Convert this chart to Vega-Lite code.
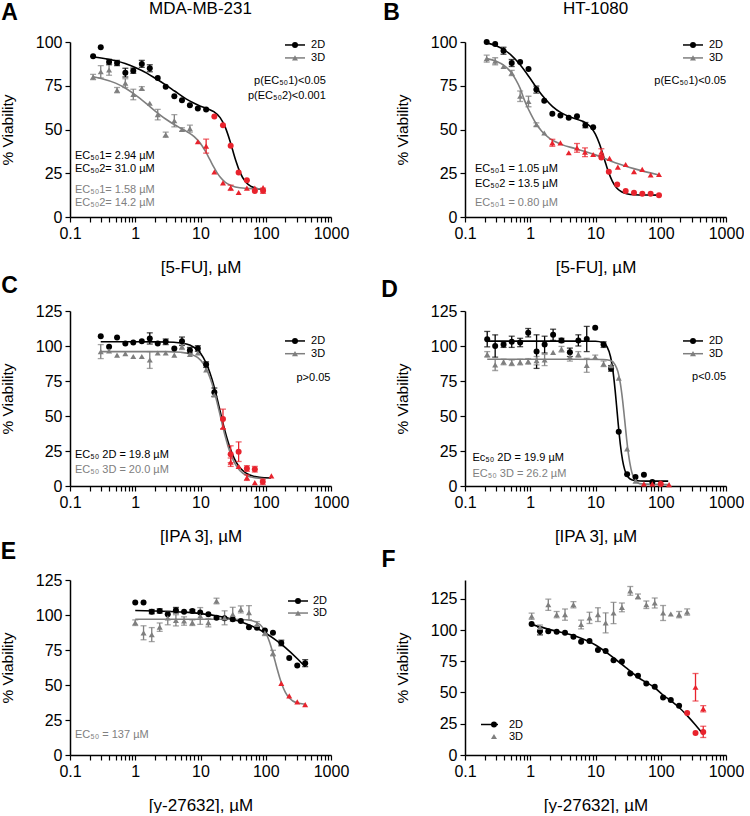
{
"$schema": "https://vega.github.io/schema/vega-lite/v6.json",
"background": "white",
"padding": {"left": 0, "top": 0, "right": 0, "bottom": 0},
"config": {
 "view": {"stroke": null},
 "font": "Liberation Sans",
 "axis": {"grid": false, "domainColor": "#000", "domainWidth": 1.5, "tickColor": "#000", "tickWidth": 1.2, "tickSize": 5, "labelFont": "Liberation Sans", "labelFontSize": 16, "labelColor": "#000", "labelPadding": 3, "titleFont": "Liberation Sans", "titleFontSize": 17, "titleFontWeight": "normal", "titleColor": "#000", "labelFlush": false},
 "axisX": {"titlePadding": 18, "labelOverlap": false},
 "axisY": {"titlePadding": 20, "titleFontSize": 15.5}
},
"datasets": {
 "pts": [
  {"p":"A","s":"2D","x":0.226,"y":91.8},{"p":"A","s":"2D","x":0.296,"y":97},{"p":"A","s":"2D","x":0.397,"y":88.6,"e":1.5},{"p":"A","s":"2D","x":0.526,"y":88,"e":1.5},{"p":"A","s":"2D","x":0.705,"y":82.5,"e":2.5},{"p":"A","s":"2D","x":0.933,"y":83.6,"e":1.5},{"p":"A","s":"2D","x":1.26,"y":87.5,"e":2},{"p":"A","s":"2D","x":1.67,"y":85,"e":2},{"p":"A","s":"2D","x":2.21,"y":79.5},{"p":"A","s":"2D","x":2.93,"y":74.5},{"p":"A","s":"2D","x":3.97,"y":69},{"p":"A","s":"2D","x":5.2,"y":66.7},{"p":"A","s":"2D","x":6.88,"y":63.9},{"p":"A","s":"2D","x":9.1,"y":62},{"p":"A","s":"2D","x":12.2,"y":61.4},{"p":"A","s":"2D","x":16.3,"y":57.5,"hl":true},{"p":"A","s":"2D","x":22.1,"y":52.5,"hl":true},{"p":"A","s":"2D","x":29,"y":40.7,"hl":true},{"p":"A","s":"2D","x":38.4,"y":25.5,"hl":true},{"p":"A","s":"2D","x":51.4,"y":21,"hl":true},{"p":"A","s":"2D","x":68,"y":14.8,"hl":true},{"p":"A","s":"2D","x":91,"y":15,"e":1.5,"hl":true},
  {"p":"A","s":"3D","x":0.226,"y":80,"e":1.5},{"p":"A","s":"3D","x":0.296,"y":83,"e":3.5},{"p":"A","s":"3D","x":0.397,"y":84,"e":3},{"p":"A","s":"3D","x":0.526,"y":72.5,"e":1.5},{"p":"A","s":"3D","x":0.705,"y":76.5,"e":2.5},{"p":"A","s":"3D","x":0.933,"y":70,"e":3},{"p":"A","s":"3D","x":1.26,"y":73.5,"e":1},{"p":"A","s":"3D","x":1.67,"y":65},{"p":"A","s":"3D","x":2.21,"y":58.5,"e":3},{"p":"A","s":"3D","x":2.93,"y":47,"e":1.5},{"p":"A","s":"3D","x":3.97,"y":55,"e":3.5},{"p":"A","s":"3D","x":5.2,"y":50,"e":1},{"p":"A","s":"3D","x":6.88,"y":50.5,"e":2},{"p":"A","s":"3D","x":9.1,"y":43,"hl":true},{"p":"A","s":"3D","x":12.2,"y":40.5,"e":4,"hl":true},{"p":"A","s":"3D","x":16.3,"y":25.7,"hl":true},{"p":"A","s":"3D","x":22.1,"y":19.5,"hl":true},{"p":"A","s":"3D","x":29,"y":16.7,"e":1.5,"hl":true},{"p":"A","s":"3D","x":38.4,"y":14,"hl":true},{"p":"A","s":"3D","x":51.4,"y":16.5,"hl":true},{"p":"A","s":"3D","x":68,"y":16.5,"hl":true},{"p":"A","s":"3D","x":91,"y":16.8,"hl":true},
  {"p":"B","s":"2D","x":0.215,"y":100},{"p":"B","s":"2D","x":0.29,"y":98.9},{"p":"B","s":"2D","x":0.389,"y":95,"e":2},{"p":"B","s":"2D","x":0.52,"y":88,"e":2},{"p":"B","s":"2D","x":0.7,"y":88.6},{"p":"B","s":"2D","x":0.94,"y":84.6},{"p":"B","s":"2D","x":1.24,"y":72.8,"e":2},{"p":"B","s":"2D","x":1.64,"y":66.5},{"p":"B","s":"2D","x":2.18,"y":59},{"p":"B","s":"2D","x":2.9,"y":58},{"p":"B","s":"2D","x":3.89,"y":56.7},{"p":"B","s":"2D","x":5.2,"y":57.6},{"p":"B","s":"2D","x":7,"y":52.5,"e":1.5},{"p":"B","s":"2D","x":9.2,"y":51.3},{"p":"B","s":"2D","x":12.3,"y":34,"hl":true},{"p":"B","s":"2D","x":16,"y":25.9,"hl":true},{"p":"B","s":"2D","x":21.5,"y":18.6,"hl":true},{"p":"B","s":"2D","x":29,"y":14.8,"hl":true},{"p":"B","s":"2D","x":38.9,"y":13.9,"hl":true},{"p":"B","s":"2D","x":52.2,"y":13.3,"hl":true},{"p":"B","s":"2D","x":70,"y":13.3,"hl":true},{"p":"B","s":"2D","x":94,"y":12.5,"hl":true},
  {"p":"B","s":"3D","x":0.215,"y":90.5,"e":2},{"p":"B","s":"3D","x":0.29,"y":89,"e":2},{"p":"B","s":"3D","x":0.389,"y":86},{"p":"B","s":"3D","x":0.52,"y":82.3,"e":1.5},{"p":"B","s":"3D","x":0.7,"y":69,"e":3},{"p":"B","s":"3D","x":0.94,"y":66,"e":3},{"p":"B","s":"3D","x":1.24,"y":52.8,"e":1},{"p":"B","s":"3D","x":1.64,"y":48},{"p":"B","s":"3D","x":2.18,"y":42.4,"e":2,"hl":true},{"p":"B","s":"3D","x":2.9,"y":42.4,"hl":true},{"p":"B","s":"3D","x":3.89,"y":36.7,"hl":true},{"p":"B","s":"3D","x":5.2,"y":39.5,"e":2.5,"hl":true},{"p":"B","s":"3D","x":6.9,"y":37,"e":2.5,"hl":true},{"p":"B","s":"3D","x":9.2,"y":35.7,"hl":true},{"p":"B","s":"3D","x":12.3,"y":37,"e":2,"hl":true},{"p":"B","s":"3D","x":16.4,"y":33.5,"hl":true},{"p":"B","s":"3D","x":22,"y":28.5,"hl":true},{"p":"B","s":"3D","x":29,"y":30,"hl":true},{"p":"B","s":"3D","x":38.9,"y":25.9,"hl":true},{"p":"B","s":"3D","x":52,"y":27.2,"hl":true},{"p":"B","s":"3D","x":70,"y":24,"hl":true},{"p":"B","s":"3D","x":94,"y":24.3,"hl":true},
  {"p":"C","s":"2D","x":0.296,"y":107},{"p":"C","s":"2D","x":0.397,"y":99.4},{"p":"C","s":"2D","x":0.526,"y":106},{"p":"C","s":"2D","x":0.705,"y":101.8},{"p":"C","s":"2D","x":0.933,"y":102.5},{"p":"C","s":"2D","x":1.26,"y":103.4},{"p":"C","s":"2D","x":1.67,"y":105.4,"e":4},{"p":"C","s":"2D","x":2.21,"y":101.8},{"p":"C","s":"2D","x":2.93,"y":103,"e":2},{"p":"C","s":"2D","x":3.97,"y":98.2},{"p":"C","s":"2D","x":5.2,"y":103.4,"e":3},{"p":"C","s":"2D","x":6.88,"y":97,"e":2},{"p":"C","s":"2D","x":9.1,"y":98.2,"e":2},{"p":"C","s":"2D","x":12.2,"y":86.7,"e":2},{"p":"C","s":"2D","x":16.3,"y":67,"e":3},{"p":"C","s":"2D","x":22.1,"y":47.9,"e":7,"hl":true},{"p":"C","s":"2D","x":29,"y":22.7,"e":6,"hl":true},{"p":"C","s":"2D","x":38.4,"y":24.5,"e":7,"hl":true},{"p":"C","s":"2D","x":51.4,"y":12.5,"e":2,"hl":true},{"p":"C","s":"2D","x":68,"y":12,"e":2,"hl":true},{"p":"C","s":"2D","x":90,"y":3,"e":2,"hl":true},
  {"p":"C","s":"3D","x":0.296,"y":96,"e":5},{"p":"C","s":"3D","x":0.397,"y":96.5},{"p":"C","s":"3D","x":0.526,"y":93.5},{"p":"C","s":"3D","x":0.705,"y":94.5},{"p":"C","s":"3D","x":0.933,"y":92.5},{"p":"C","s":"3D","x":1.26,"y":92.5},{"p":"C","s":"3D","x":1.67,"y":90,"e":6},{"p":"C","s":"3D","x":2.21,"y":95},{"p":"C","s":"3D","x":2.93,"y":95},{"p":"C","s":"3D","x":3.97,"y":93.5},{"p":"C","s":"3D","x":5.2,"y":99.5,"e":2},{"p":"C","s":"3D","x":6.88,"y":94},{"p":"C","s":"3D","x":9.1,"y":95},{"p":"C","s":"3D","x":12.2,"y":83},{"p":"C","s":"3D","x":16.3,"y":65},{"p":"C","s":"3D","x":22.1,"y":42,"hl":true},{"p":"C","s":"3D","x":29,"y":17,"e":3,"hl":true},{"p":"C","s":"3D","x":38.4,"y":14,"hl":true},{"p":"C","s":"3D","x":51.4,"y":6,"e":2,"hl":true},{"p":"C","s":"3D","x":68,"y":2.4,"hl":true},{"p":"C","s":"3D","x":122,"y":7.2,"hl":true},
  {"p":"D","s":"2D","x":0.219,"y":104.9,"e":5.5},{"p":"D","s":"2D","x":0.29,"y":100,"e":8},{"p":"D","s":"2D","x":0.39,"y":101,"e":2},{"p":"D","s":"2D","x":0.52,"y":103,"e":4},{"p":"D","s":"2D","x":0.7,"y":102.5,"e":3},{"p":"D","s":"2D","x":0.93,"y":109.5,"e":3},{"p":"D","s":"2D","x":1.25,"y":96,"e":12},{"p":"D","s":"2D","x":1.66,"y":101,"e":6},{"p":"D","s":"2D","x":2.24,"y":108,"e":4},{"p":"D","s":"2D","x":3.01,"y":104,"e":1.5},{"p":"D","s":"2D","x":4.05,"y":95.5,"e":3},{"p":"D","s":"2D","x":5.46,"y":104,"e":4},{"p":"D","s":"2D","x":7.34,"y":105,"e":9},{"p":"D","s":"2D","x":9.9,"y":113},{"p":"D","s":"2D","x":13.3,"y":101,"e":2},{"p":"D","s":"2D","x":17.3,"y":84,"e":2},{"p":"D","s":"2D","x":22.7,"y":38.8},{"p":"D","s":"2D","x":30.5,"y":8.4},{"p":"D","s":"2D","x":41,"y":6.5},{"p":"D","s":"2D","x":55.2,"y":8},{"p":"D","s":"2D","x":74.3,"y":2.9},{"p":"D","s":"2D","x":100,"y":1.5,"hl":true},
  {"p":"D","s":"3D","x":0.219,"y":94,"e":2},{"p":"D","s":"3D","x":0.29,"y":86.5,"e":4},{"p":"D","s":"3D","x":0.39,"y":88.6,"e":2},{"p":"D","s":"3D","x":0.52,"y":88,"e":2},{"p":"D","s":"3D","x":0.7,"y":88.5,"e":2},{"p":"D","s":"3D","x":0.93,"y":89,"e":2},{"p":"D","s":"3D","x":1.25,"y":89.5,"e":3},{"p":"D","s":"3D","x":1.66,"y":90,"e":4},{"p":"D","s":"3D","x":2.24,"y":95.5},{"p":"D","s":"3D","x":3.01,"y":97.7,"e":2},{"p":"D","s":"3D","x":4.05,"y":92.2,"e":3},{"p":"D","s":"3D","x":5.46,"y":94,"e":2},{"p":"D","s":"3D","x":7.34,"y":86.2,"e":5},{"p":"D","s":"3D","x":9.9,"y":92,"e":1.5},{"p":"D","s":"3D","x":13.3,"y":87.3,"e":2},{"p":"D","s":"3D","x":17.3,"y":86},{"p":"D","s":"3D","x":22.7,"y":77},{"p":"D","s":"3D","x":30.5,"y":26.5},{"p":"D","s":"3D","x":41,"y":3.5},{"p":"D","s":"3D","x":55.2,"y":1.5,"hl":true},{"p":"D","s":"3D","x":74.3,"y":1.5,"hl":true},{"p":"D","s":"3D","x":100,"y":2.5,"hl":true},{"p":"D","s":"3D","x":134,"y":1,"hl":true},
  {"p":"E","s":"2D","x":1,"y":108.9},{"p":"E","s":"2D","x":1.34,"y":108.9},{"p":"E","s":"2D","x":1.79,"y":102.4,"e":1.5},{"p":"E","s":"2D","x":2.37,"y":102.9,"e":1.5},{"p":"E","s":"2D","x":3.15,"y":100.5},{"p":"E","s":"2D","x":4.2,"y":103.4,"e":2},{"p":"E","s":"2D","x":5.6,"y":102.4},{"p":"E","s":"2D","x":7.5,"y":102.9,"e":1},{"p":"E","s":"2D","x":9.9,"y":101.7},{"p":"E","s":"2D","x":13.2,"y":100.5},{"p":"E","s":"2D","x":17.6,"y":98},{"p":"E","s":"2D","x":23.4,"y":97.6},{"p":"E","s":"2D","x":31.2,"y":97},{"p":"E","s":"2D","x":41.5,"y":95.7},{"p":"E","s":"2D","x":55.3,"y":91.3},{"p":"E","s":"2D","x":73.3,"y":90.9},{"p":"E","s":"2D","x":97,"y":88.9},{"p":"E","s":"2D","x":129,"y":87.3},{"p":"E","s":"2D","x":173,"y":80,"e":2},{"p":"E","s":"2D","x":229,"y":69.2},{"p":"E","s":"2D","x":304,"y":63.9},{"p":"E","s":"2D","x":402,"y":65.6,"e":2.5},
  {"p":"E","s":"3D","x":1,"y":94.5,"e":2},{"p":"E","s":"3D","x":1.34,"y":87.3,"e":5},{"p":"E","s":"3D","x":1.79,"y":86,"e":5},{"p":"E","s":"3D","x":2.37,"y":91.3,"e":3},{"p":"E","s":"3D","x":3.15,"y":98,"e":5},{"p":"E","s":"3D","x":4.2,"y":96.2,"e":4},{"p":"E","s":"3D","x":5.6,"y":95.7,"e":3},{"p":"E","s":"3D","x":7.5,"y":94.5,"e":2},{"p":"E","s":"3D","x":9.9,"y":99.3,"e":6},{"p":"E","s":"3D","x":13.2,"y":94.5,"e":3},{"p":"E","s":"3D","x":17.6,"y":110,"e":2},{"p":"E","s":"3D","x":23.4,"y":98,"e":5},{"p":"E","s":"3D","x":31.2,"y":100.5,"e":5},{"p":"E","s":"3D","x":41.5,"y":104,"e":2.5},{"p":"E","s":"3D","x":55.3,"y":101.7,"e":5},{"p":"E","s":"3D","x":73.3,"y":93.3,"e":2},{"p":"E","s":"3D","x":97,"y":87.3,"e":2},{"p":"E","s":"3D","x":129,"y":72.8,"e":2},{"p":"E","s":"3D","x":173,"y":51.2,"hl":true},{"p":"E","s":"3D","x":229,"y":42.3,"hl":true},{"p":"E","s":"3D","x":304,"y":38,"hl":true},{"p":"E","s":"3D","x":402,"y":36,"hl":true},
  {"p":"F","s":"2D","x":1.05,"y":104.9},{"p":"F","s":"2D","x":1.41,"y":99.1,"e":3},{"p":"F","s":"2D","x":1.89,"y":99.1},{"p":"F","s":"2D","x":2.54,"y":98.6},{"p":"F","s":"2D","x":3.41,"y":97.8},{"p":"F","s":"2D","x":4.59,"y":94.6},{"p":"F","s":"2D","x":6.02,"y":90.6},{"p":"F","s":"2D","x":8.09,"y":91.2},{"p":"F","s":"2D","x":10.9,"y":84},{"p":"F","s":"2D","x":14.3,"y":83.2},{"p":"F","s":"2D","x":18.9,"y":75.8},{"p":"F","s":"2D","x":25.4,"y":74.8},{"p":"F","s":"2D","x":34.1,"y":65.3},{"p":"F","s":"2D","x":44.8,"y":63.4},{"p":"F","s":"2D","x":60.1,"y":57.3},{"p":"F","s":"2D","x":80.9,"y":54.7},{"p":"F","s":"2D","x":108.6,"y":46},{"p":"F","s":"2D","x":142.6,"y":44},{"p":"F","s":"2D","x":191,"y":39.5},{"p":"F","s":"2D","x":254,"y":33.6,"hl":true},{"p":"F","s":"2D","x":341,"y":17.7,"hl":true},{"p":"F","s":"2D","x":448,"y":18.5,"e":4.5,"hl":true},
  {"p":"F","s":"3D","x":1.05,"y":111,"e":2.5},{"p":"F","s":"3D","x":1.41,"y":102,"e":2},{"p":"F","s":"3D","x":1.89,"y":120.2,"e":4.5},{"p":"F","s":"3D","x":2.54,"y":112.3,"e":2.5},{"p":"F","s":"3D","x":3.41,"y":112.3,"e":4.5},{"p":"F","s":"3D","x":4.59,"y":120.2,"e":2.5},{"p":"F","s":"3D","x":6.02,"y":104.4,"e":3.5},{"p":"F","s":"3D","x":8.09,"y":109.7,"e":4.5},{"p":"F","s":"3D","x":10.9,"y":112.3,"e":5.5},{"p":"F","s":"3D","x":14.3,"y":105.7,"e":8},{"p":"F","s":"3D","x":18.9,"y":113.6,"e":8.5},{"p":"F","s":"3D","x":25.4,"y":118.1,"e":3.5},{"p":"F","s":"3D","x":34.1,"y":131.3,"e":3.5},{"p":"F","s":"3D","x":44.8,"y":126.8,"e":2},{"p":"F","s":"3D","x":60.1,"y":120.2,"e":3},{"p":"F","s":"3D","x":80.9,"y":121.6,"e":4},{"p":"F","s":"3D","x":108.6,"y":113.6,"e":6},{"p":"F","s":"3D","x":142.6,"y":112.8},{"p":"F","s":"3D","x":191,"y":112.3,"e":2.5},{"p":"F","s":"3D","x":254,"y":114.4,"e":2.5},{"p":"F","s":"3D","x":341,"y":54.2,"e":11,"hl":true},{"p":"F","s":"3D","x":448,"y":37,"e":2.5,"hl":true}
 ],
 "crv": [
  {"p":"A","s":"2D","x":0.226,"y":91.4},{"p":"A","s":"2D","x":0.3,"y":90.9},{"p":"A","s":"2D","x":0.5,"y":89.3},{"p":"A","s":"2D","x":0.7,"y":87.7},{"p":"A","s":"2D","x":1,"y":85.4},{"p":"A","s":"2D","x":1.5,"y":82.2},{"p":"A","s":"2D","x":2,"y":79.4},{"p":"A","s":"2D","x":3,"y":75.2},{"p":"A","s":"2D","x":4,"y":72},{"p":"A","s":"2D","x":6,"y":67.5},{"p":"A","s":"2D","x":8,"y":65},{"p":"A","s":"2D","x":10,"y":63.3},{"p":"A","s":"2D","x":13,"y":61.8},{"p":"A","s":"2D","x":16,"y":60.2},{"p":"A","s":"2D","x":20,"y":56.8},{"p":"A","s":"2D","x":24,"y":51.2},{"p":"A","s":"2D","x":28,"y":44},{"p":"A","s":"2D","x":31,"y":38.4},{"p":"A","s":"2D","x":35,"y":31.8},{"p":"A","s":"2D","x":40,"y":25.8},{"p":"A","s":"2D","x":50,"y":19.7},{"p":"A","s":"2D","x":60,"y":17.4},{"p":"A","s":"2D","x":80,"y":16},{"p":"A","s":"2D","x":95,"y":15.6},
  {"p":"A","s":"3D","x":0.226,"y":80.2},{"p":"A","s":"3D","x":0.3,"y":79.2},{"p":"A","s":"3D","x":0.5,"y":76.5},{"p":"A","s":"3D","x":0.7,"y":73.7},{"p":"A","s":"3D","x":1,"y":69.8},{"p":"A","s":"3D","x":1.5,"y":64.6},{"p":"A","s":"3D","x":2,"y":60.7},{"p":"A","s":"3D","x":3,"y":55.7},{"p":"A","s":"3D","x":4,"y":52.7},{"p":"A","s":"3D","x":5,"y":50.7},{"p":"A","s":"3D","x":6,"y":49.1},{"p":"A","s":"3D","x":8,"y":45.9},{"p":"A","s":"3D","x":10,"y":42},{"p":"A","s":"3D","x":12,"y":37.3},{"p":"A","s":"3D","x":14,"y":32.6},{"p":"A","s":"3D","x":16,"y":28.5},{"p":"A","s":"3D","x":18,"y":25.2},{"p":"A","s":"3D","x":20,"y":22.8},{"p":"A","s":"3D","x":24,"y":19.8},{"p":"A","s":"3D","x":30,"y":17.9},{"p":"A","s":"3D","x":40,"y":16.7},{"p":"A","s":"3D","x":60,"y":16.2},{"p":"A","s":"3D","x":95,"y":16.1},
  {"p":"B","s":"2D","x":0.215,"y":99.5},{"p":"B","s":"2D","x":0.3,"y":97.9},{"p":"B","s":"2D","x":0.4,"y":95.5},{"p":"B","s":"2D","x":0.5,"y":92.8},{"p":"B","s":"2D","x":0.7,"y":87},{"p":"B","s":"2D","x":1,"y":79.1},{"p":"B","s":"2D","x":1.3,"y":72.9},{"p":"B","s":"2D","x":1.7,"y":67.4},{"p":"B","s":"2D","x":2.2,"y":63.1},{"p":"B","s":"2D","x":3,"y":59.5},{"p":"B","s":"2D","x":4,"y":57.3},{"p":"B","s":"2D","x":5.5,"y":55.5},{"p":"B","s":"2D","x":7,"y":53.9},{"p":"B","s":"2D","x":8.5,"y":51.3},{"p":"B","s":"2D","x":10,"y":47.2},{"p":"B","s":"2D","x":11.5,"y":41.8},{"p":"B","s":"2D","x":13,"y":35.7},{"p":"B","s":"2D","x":14.5,"y":30},{"p":"B","s":"2D","x":16,"y":25.2},{"p":"B","s":"2D","x":18,"y":20.7},{"p":"B","s":"2D","x":21,"y":16.7},{"p":"B","s":"2D","x":25,"y":14.4},{"p":"B","s":"2D","x":30,"y":13.3},{"p":"B","s":"2D","x":40,"y":12.7},{"p":"B","s":"2D","x":60,"y":12.55},{"p":"B","s":"2D","x":94,"y":12.5},
  {"p":"B","s":"3D","x":0.215,"y":90.5},{"p":"B","s":"3D","x":0.3,"y":89},{"p":"B","s":"3D","x":0.4,"y":86.5},{"p":"B","s":"3D","x":0.5,"y":83},{"p":"B","s":"3D","x":0.6,"y":78.5},{"p":"B","s":"3D","x":0.7,"y":73.5},{"p":"B","s":"3D","x":0.8,"y":67.5},{"p":"B","s":"3D","x":0.9,"y":63},{"p":"B","s":"3D","x":1,"y":59.5},{"p":"B","s":"3D","x":1.2,"y":54},{"p":"B","s":"3D","x":1.5,"y":49},{"p":"B","s":"3D","x":2,"y":44.8},{"p":"B","s":"3D","x":3,"y":41.5},{"p":"B","s":"3D","x":5,"y":39},{"p":"B","s":"3D","x":10,"y":35.5},{"p":"B","s":"3D","x":20,"y":31},{"p":"B","s":"3D","x":40,"y":27.5},{"p":"B","s":"3D","x":94,"y":24},
  {"p":"C","s":"2D","x":0.296,"y":103},{"p":"C","s":"2D","x":1,"y":103},{"p":"C","s":"2D","x":3,"y":102.9},{"p":"C","s":"2D","x":5,"y":102.2},{"p":"C","s":"2D","x":7,"y":100.5},{"p":"C","s":"2D","x":9,"y":97.2},{"p":"C","s":"2D","x":11,"y":91.9},{"p":"C","s":"2D","x":13,"y":84.8},{"p":"C","s":"2D","x":15,"y":76.2},{"p":"C","s":"2D","x":17,"y":67},{"p":"C","s":"2D","x":19,"y":57.8},{"p":"C","s":"2D","x":21,"y":49.2},{"p":"C","s":"2D","x":24,"y":38.4},{"p":"C","s":"2D","x":27,"y":30.1},{"p":"C","s":"2D","x":30,"y":24},{"p":"C","s":"2D","x":35,"y":17.2},{"p":"C","s":"2D","x":40,"y":13.2},{"p":"C","s":"2D","x":50,"y":9.2},{"p":"C","s":"2D","x":60,"y":7.5},{"p":"C","s":"2D","x":80,"y":6.2},{"p":"C","s":"2D","x":120,"y":5.7},
  {"p":"C","s":"3D","x":0.296,"y":96},{"p":"C","s":"3D","x":3,"y":96},{"p":"C","s":"3D","x":5,"y":95.5},{"p":"C","s":"3D","x":7,"y":94.3},{"p":"C","s":"3D","x":9,"y":91.8},{"p":"C","s":"3D","x":11,"y":87.5},{"p":"C","s":"3D","x":13,"y":81.2},{"p":"C","s":"3D","x":15,"y":73.2},{"p":"C","s":"3D","x":17,"y":64.1},{"p":"C","s":"3D","x":19,"y":54.9},{"p":"C","s":"3D","x":21,"y":46.3},{"p":"C","s":"3D","x":24,"y":35.3},{"p":"C","s":"3D","x":27,"y":27},{"p":"C","s":"3D","x":30,"y":21.05},{"p":"C","s":"3D","x":35,"y":14.7},{"p":"C","s":"3D","x":40,"y":11.1},{"p":"C","s":"3D","x":50,"y":7.7},{"p":"C","s":"3D","x":60,"y":6.4},{"p":"C","s":"3D","x":80,"y":5.5},{"p":"C","s":"3D","x":100,"y":5.2},
  {"p":"D","s":"2D","x":0.219,"y":103.5},{"p":"D","s":"2D","x":5,"y":103.5},{"p":"D","s":"2D","x":10,"y":103.4},{"p":"D","s":"2D","x":13,"y":102.4},{"p":"D","s":"2D","x":15,"y":99.6},{"p":"D","s":"2D","x":17,"y":92.3},{"p":"D","s":"2D","x":18,"y":86.1},{"p":"D","s":"2D","x":19,"y":78},{"p":"D","s":"2D","x":20,"y":68.3},{"p":"D","s":"2D","x":21,"y":57.7},{"p":"D","s":"2D","x":22,"y":47.3},{"p":"D","s":"2D","x":23,"y":37.8},{"p":"D","s":"2D","x":24,"y":29.8},{"p":"D","s":"2D","x":26,"y":18.3},{"p":"D","s":"2D","x":28,"y":11.7},{"p":"D","s":"2D","x":30,"y":8.1},{"p":"D","s":"2D","x":34,"y":5},{"p":"D","s":"2D","x":40,"y":3.9},{"p":"D","s":"2D","x":60,"y":3.5},{"p":"D","s":"2D","x":130,"y":3.5},
  {"p":"D","s":"3D","x":0.219,"y":90.5},{"p":"D","s":"3D","x":5,"y":90.5},{"p":"D","s":"3D","x":13,"y":90.4},{"p":"D","s":"3D","x":17,"y":89.6},{"p":"D","s":"3D","x":20,"y":86.6},{"p":"D","s":"3D","x":22,"y":81.9},{"p":"D","s":"3D","x":24,"y":73.5},{"p":"D","s":"3D","x":26,"y":61.4},{"p":"D","s":"3D","x":28,"y":47.2},{"p":"D","s":"3D","x":30,"y":33.6},{"p":"D","s":"3D","x":32,"y":22.7},{"p":"D","s":"3D","x":35,"y":12.2},{"p":"D","s":"3D","x":40,"y":4.7},{"p":"D","s":"3D","x":50,"y":1.5},{"p":"D","s":"3D","x":130,"y":1},
  {"p":"E","s":"2D","x":1,"y":103.2},{"p":"E","s":"2D","x":2,"y":102.9},{"p":"E","s":"2D","x":5,"y":102.1},{"p":"E","s":"2D","x":10,"y":101},{"p":"E","s":"2D","x":20,"y":98.9},{"p":"E","s":"2D","x":30,"y":97.1},{"p":"E","s":"2D","x":50,"y":93.8},{"p":"E","s":"2D","x":70,"y":90.9},{"p":"E","s":"2D","x":100,"y":87},{"p":"E","s":"2D","x":150,"y":81.4},{"p":"E","s":"2D","x":200,"y":76.7},{"p":"E","s":"2D","x":300,"y":69.1},{"p":"E","s":"2D","x":402,"y":63},
  {"p":"E","s":"3D","x":1,"y":97},{"p":"E","s":"3D","x":10,"y":97},{"p":"E","s":"3D","x":30,"y":97},{"p":"E","s":"3D","x":50,"y":96.6},{"p":"E","s":"3D","x":70,"y":95.1},{"p":"E","s":"3D","x":90,"y":91},{"p":"E","s":"3D","x":100,"y":87.4},{"p":"E","s":"3D","x":110,"y":82.9},{"p":"E","s":"3D","x":120,"y":77.7},{"p":"E","s":"3D","x":130,"y":72.1},{"p":"E","s":"3D","x":140,"y":66.5},{"p":"E","s":"3D","x":150,"y":61.3},{"p":"E","s":"3D","x":165,"y":54.6},{"p":"E","s":"3D","x":180,"y":49.5},{"p":"E","s":"3D","x":200,"y":44.8},{"p":"E","s":"3D","x":230,"y":40.7},{"p":"E","s":"3D","x":260,"y":38.6},{"p":"E","s":"3D","x":300,"y":37.3},{"p":"E","s":"3D","x":402,"y":36.3},
  {"p":"F","s":"2D","x":1.05,"y":104.5},{"p":"F","s":"2D","x":2,"y":100.3},{"p":"F","s":"2D","x":5,"y":95},{"p":"F","s":"2D","x":10,"y":88},{"p":"F","s":"2D","x":20,"y":76.8},{"p":"F","s":"2D","x":30,"y":69.5},{"p":"F","s":"2D","x":45,"y":62},{"p":"F","s":"2D","x":80,"y":54},{"p":"F","s":"2D","x":108,"y":48},{"p":"F","s":"2D","x":150,"y":42.5},{"p":"F","s":"2D","x":191,"y":38},{"p":"F","s":"2D","x":254,"y":31.5},{"p":"F","s":"2D","x":341,"y":24},{"p":"F","s":"2D","x":448,"y":16.5}
 ],
 "ann": [
  {"p":"A","s":"2D","x":0.119,"y":34.9,"t":"EC₅₀1= 2.94 µM"},{"p":"A","s":"2D","x":0.119,"y":27.4,"t":"EC₅₀2= 31.0 µM"},{"p":"A","s":"3D","x":0.119,"y":15.4,"t":"EC₅₀1= 1.58 µM"},{"p":"A","s":"3D","x":0.119,"y":8,"t":"EC₅₀2= 14.2 µM"},
  {"p":"B","s":"2D","x":0.142,"y":27.4,"t":"EC₅₀1 = 1.05 µM"},{"p":"B","s":"2D","x":0.142,"y":18.9,"t":"EC₅₀2 = 13.5 µM"},{"p":"B","s":"3D","x":0.142,"y":8,"t":"EC₅₀1 = 0.80 µM"},
  {"p":"C","s":"2D","x":0.119,"y":21.8,"t":"EC₅₀ 2D = 19.8 µM"},{"p":"C","s":"3D","x":0.119,"y":11.7,"t":"EC₅₀ 3D = 20.0 µM"},
  {"p":"D","s":"2D","x":0.13,"y":20.1,"t":"Ec₅₀ 2D = 19.9 µM"},{"p":"D","s":"3D","x":0.13,"y":8.6,"t":"EC₅₀ 3D = 26.2 µM"},
  {"p":"E","s":"3D","x":0.119,"y":14.5,"t":"EC₅₀ = 137 µM"}
 ],
 "pv": [
  {"p":"A","x":832,"y":77.7,"t":"p(EC₅₀1)<0.05"},{"p":"A","x":832,"y":69.1,"t":"p(EC₅₀2)<0.001"},{"p":"B","x":1000,"y":77.7,"t":"p(EC₅₀1)<0.05"},{"p":"C","x":980,"y":76.9,"t":"p>0.05"},{"p":"D","x":1000,"y":77.6,"t":"p<0.05"}
 ],
 "lab": [
  {"p":"A","t":"A","x":0.1,"y":100},{"p":"B","t":"B","x":0.1,"y":100},{"p":"C","t":"C","x":0.1,"y":125},{"p":"D","t":"D","x":0.1,"y":125},{"p":"E","t":"E","x":0.1,"y":125},{"p":"F","t":"F","x":0.1,"y":140}
 ],
 "hdr": [
  {"p":"A","t":"MDA-MB-231","x":10,"y":100},{"p":"B","t":"HT-1080","x":10,"y":100}
 ],
 "legline": [
  {"p":"A","s":"2D","x":197.2,"x2":399.6,"y":98.3},{"p":"A","s":"3D","x":197.2,"x2":399.6,"y":90.9},
  {"p":"B","s":"2D","x":219.3,"x2":444.2,"y":98.3},{"p":"B","s":"3D","x":219.3,"x2":444.2,"y":90.9},
  {"p":"C","s":"2D","x":197.2,"x2":399.6,"y":103.6},{"p":"C","s":"3D","x":197.2,"x2":399.6,"y":94.5},
  {"p":"D","s":"2D","x":219.3,"x2":444.2,"y":103.6},{"p":"D","s":"3D","x":219.3,"x2":444.2,"y":94.5},
  {"p":"E","s":"2D","x":219.3,"x2":444.2,"y":110},{"p":"E","s":"3D","x":219.3,"x2":444.2,"y":101.4},
  {"p":"F","s":"2D","x":0.176,"x2":0.3204,"y":24.4}
 ],
 "legsym": [
  {"p":"A","s":"2D","x":280.7,"y":98.3},{"p":"A","s":"3D","x":280.7,"y":90.9},
  {"p":"B","s":"2D","x":312,"y":98.3},{"p":"B","s":"3D","x":312,"y":90.9},
  {"p":"C","s":"2D","x":280.7,"y":103.6},{"p":"C","s":"3D","x":280.7,"y":94.5},
  {"p":"D","s":"2D","x":312,"y":103.6},{"p":"D","s":"3D","x":312,"y":94.5},
  {"p":"E","s":"2D","x":312,"y":110},{"p":"E","s":"3D","x":312,"y":101.4},
  {"p":"F","s":"2D","x":0.278,"y":24.4},{"p":"F","s":"3D","x":0.278,"y":14.8}
 ],
 "legtxt": [
  {"p":"A","t":"2D","x":493.9,"y":98.3},{"p":"A","t":"3D","x":493.9,"y":90.9},
  {"p":"B","t":"2D","x":549,"y":98.3},{"p":"B","t":"3D","x":549,"y":90.9},
  {"p":"C","t":"2D","x":493.9,"y":103.6},{"p":"C","t":"3D","x":493.9,"y":94.5},
  {"p":"D","t":"2D","x":549,"y":103.6},{"p":"D","t":"3D","x":549,"y":94.5},
  {"p":"E","t":"2D","x":529,"y":110},{"p":"E","t":"3D","x":529,"y":101.4},
  {"p":"F","t":"2D","x":0.4724,"y":24.4},{"p":"F","t":"3D","x":0.4724,"y":14.8}
 ]
},
"columns": 2,
"spacing": {"row": 94, "column": 134},
"bounds": "flush",
"resolve": {"scale": {"x": "independent", "y": "independent", "shape": "independent"}},
"concat": [
  {"width": 261, "height": 175,
   "encoding": {
    "x": {"field": "x", "type": "quantitative", "title": "[5-FU], µM", "scale": {"type": "log", "domain": [0.1, 1000], "nice": false}, "axis": {"format": "~g", "values": [0.1,0.2,0.3,0.4,0.5,0.6,0.7,0.8,0.9,1,2,3,4,5,6,7,8,9,10,20,30,40,50,60,70,80,90,100,200,300,400,500,600,700,800,900,1000], "labelExpr": "indexof([0.1,1,10,100,1000], datum.value) >= 0 ? datum.label : ''", "encode": {"ticks": {"update": {"y2": {"signal": "indexof([0.1,1,10,100,1000], datum.value) >= 0 ? 5 : 3"}}}}}},
    "y": {"field": "y", "type": "quantitative", "title": "% Viability", "scale": {"domain": [0, 100], "nice": false, "zero": false}, "axis": {"values": [0,25,50,75,100]}}
   },
   "layer": [
    {"data": {"name": "crv"}, "transform": [{"filter": "datum.p=='A'"}], "mark": {"type": "line", "interpolate": "monotone", "strokeWidth": 1.6}, "encoding": {"detail": {"field": "s"}, "color": {"condition": {"test": "datum.s=='3D'", "value": "#7f7f7f"}, "value": "#000000"}}},
    {"data": {"name": "pts"}, "transform": [{"filter": "datum.p=='A' && datum.e > 0"}], "mark": {"type": "errorbar", "ticks": {"size": 6, "thickness": 1.3}, "rule": {"strokeWidth": 1.3}}, "encoding": {"yError": {"field": "e"}, "color": {"condition": [{"test": "datum.hl", "value": "#e8232d"}, {"test": "datum.s=='3D'", "value": "#7f7f7f"}], "value": "#000000"}}},
    {"data": {"name": "pts"}, "transform": [{"filter": "datum.p=='A'"}], "mark": {"type": "point", "filled": true, "size": 36, "opacity": 1}, "encoding": {"color": {"condition": [{"test": "datum.hl", "value": "#e8232d"}, {"test": "datum.s=='3D'", "value": "#7f7f7f"}], "value": "#000000"}, "shape": {"field": "s", "type": "nominal", "scale": {"domain": ["2D","3D"], "range": ["circle","triangle-up"]}, "legend": null}}},
    {"data": {"name": "legline"}, "transform": [{"filter": "datum.p=='A'"}], "mark": {"type": "rule", "strokeWidth": 1.5}, "encoding": {"x2": {"field": "x2"}, "color": {"condition": {"test": "datum.s=='3D'", "value": "#7f7f7f"}, "value": "#000000"}}},
    {"data": {"name": "legsym"}, "transform": [{"filter": "datum.p=='A'"}], "mark": {"type": "point", "filled": true, "size": 36, "opacity": 1}, "encoding": {"color": {"condition": {"test": "datum.s=='3D'", "value": "#7f7f7f"}, "value": "#000000"}, "shape": {"field": "s", "type": "nominal", "scale": {"domain": ["2D","3D"], "range": ["circle","triangle-up"]}, "legend": null}}},
    {"data": {"name": "legtxt"}, "transform": [{"filter": "datum.p=='A'"}], "mark": {"type": "text", "align": "left", "baseline": "middle", "fontSize": 11, "color": "#000"}, "encoding": {"text": {"field": "t"}}},
    {"data": {"name": "ann"}, "transform": [{"filter": "datum.p=='A'"}], "mark": {"type": "text", "align": "left", "baseline": "middle", "fontSize": 11}, "encoding": {"text": {"field": "t"}, "color": {"condition": {"test": "datum.s=='3D'", "value": "#808080"}, "value": "#000000"}}},
    {"data": {"name": "pv"}, "transform": [{"filter": "datum.p=='A'"}], "mark": {"type": "text", "align": "right", "baseline": "middle", "fontSize": 11, "color": "#000"}, "encoding": {"text": {"field": "t"}}},
    {"data": {"name": "hdr"}, "transform": [{"filter": "datum.p=='A'"}], "mark": {"type": "text", "align": "center", "baseline": "middle", "fontSize": 17, "color": "#000", "dy": -33}, "encoding": {"text": {"field": "t"}}},
    {"data": {"name": "lab"}, "transform": [{"filter": "datum.p=='A'"}], "mark": {"type": "text", "align": "center", "baseline": "middle", "fontSize": 23, "fontWeight": "bold", "color": "#000", "dx": -60.5, "dy": -29.5}, "encoding": {"text": {"field": "t"}}}
   ]},
  {"width": 261, "height": 175,
   "encoding": {
    "x": {"field": "x", "type": "quantitative", "title": "[5-FU], µM", "scale": {"type": "log", "domain": [0.1, 1000], "nice": false}, "axis": {"format": "~g", "values": [0.1,0.2,0.3,0.4,0.5,0.6,0.7,0.8,0.9,1,2,3,4,5,6,7,8,9,10,20,30,40,50,60,70,80,90,100,200,300,400,500,600,700,800,900,1000], "labelExpr": "indexof([0.1,1,10,100,1000], datum.value) >= 0 ? datum.label : ''", "encode": {"ticks": {"update": {"y2": {"signal": "indexof([0.1,1,10,100,1000], datum.value) >= 0 ? 5 : 3"}}}}}},
    "y": {"field": "y", "type": "quantitative", "title": "% Viability", "scale": {"domain": [0, 100], "nice": false, "zero": false}, "axis": {"values": [0,25,50,75,100]}}
   },
   "layer": [
    {"data": {"name": "crv"}, "transform": [{"filter": "datum.p=='B'"}], "mark": {"type": "line", "interpolate": "monotone", "strokeWidth": 1.6}, "encoding": {"detail": {"field": "s"}, "color": {"condition": {"test": "datum.s=='3D'", "value": "#7f7f7f"}, "value": "#000000"}}},
    {"data": {"name": "pts"}, "transform": [{"filter": "datum.p=='B' && datum.e > 0"}], "mark": {"type": "errorbar", "ticks": {"size": 6, "thickness": 1.3}, "rule": {"strokeWidth": 1.3}}, "encoding": {"yError": {"field": "e"}, "color": {"condition": [{"test": "datum.hl", "value": "#e8232d"}, {"test": "datum.s=='3D'", "value": "#7f7f7f"}], "value": "#000000"}}},
    {"data": {"name": "pts"}, "transform": [{"filter": "datum.p=='B'"}], "mark": {"type": "point", "filled": true, "size": 36, "opacity": 1}, "encoding": {"color": {"condition": [{"test": "datum.hl", "value": "#e8232d"}, {"test": "datum.s=='3D'", "value": "#7f7f7f"}], "value": "#000000"}, "shape": {"field": "s", "type": "nominal", "scale": {"domain": ["2D","3D"], "range": ["circle","triangle-up"]}, "legend": null}}},
    {"data": {"name": "legline"}, "transform": [{"filter": "datum.p=='B'"}], "mark": {"type": "rule", "strokeWidth": 1.5}, "encoding": {"x2": {"field": "x2"}, "color": {"condition": {"test": "datum.s=='3D'", "value": "#7f7f7f"}, "value": "#000000"}}},
    {"data": {"name": "legsym"}, "transform": [{"filter": "datum.p=='B'"}], "mark": {"type": "point", "filled": true, "size": 36, "opacity": 1}, "encoding": {"color": {"condition": {"test": "datum.s=='3D'", "value": "#7f7f7f"}, "value": "#000000"}, "shape": {"field": "s", "type": "nominal", "scale": {"domain": ["2D","3D"], "range": ["circle","triangle-up"]}, "legend": null}}},
    {"data": {"name": "legtxt"}, "transform": [{"filter": "datum.p=='B'"}], "mark": {"type": "text", "align": "left", "baseline": "middle", "fontSize": 11, "color": "#000"}, "encoding": {"text": {"field": "t"}}},
    {"data": {"name": "ann"}, "transform": [{"filter": "datum.p=='B'"}], "mark": {"type": "text", "align": "left", "baseline": "middle", "fontSize": 11}, "encoding": {"text": {"field": "t"}, "color": {"condition": {"test": "datum.s=='3D'", "value": "#808080"}, "value": "#000000"}}},
    {"data": {"name": "pv"}, "transform": [{"filter": "datum.p=='B'"}], "mark": {"type": "text", "align": "right", "baseline": "middle", "fontSize": 11, "color": "#000"}, "encoding": {"text": {"field": "t"}}},
    {"data": {"name": "hdr"}, "transform": [{"filter": "datum.p=='B'"}], "mark": {"type": "text", "align": "center", "baseline": "middle", "fontSize": 17, "color": "#000", "dy": -33}, "encoding": {"text": {"field": "t"}}},
    {"data": {"name": "lab"}, "transform": [{"filter": "datum.p=='B'"}], "mark": {"type": "text", "align": "center", "baseline": "middle", "fontSize": 23, "fontWeight": "bold", "color": "#000", "dx": -73.5, "dy": -29.5}, "encoding": {"text": {"field": "t"}}}
   ]},
  {"width": 261, "height": 175,
   "encoding": {
    "x": {"field": "x", "type": "quantitative", "title": "[IPA 3], µM", "scale": {"type": "log", "domain": [0.1, 1000], "nice": false}, "axis": {"format": "~g", "values": [0.1,0.2,0.3,0.4,0.5,0.6,0.7,0.8,0.9,1,2,3,4,5,6,7,8,9,10,20,30,40,50,60,70,80,90,100,200,300,400,500,600,700,800,900,1000], "labelExpr": "indexof([0.1,1,10,100,1000], datum.value) >= 0 ? datum.label : ''", "encode": {"ticks": {"update": {"y2": {"signal": "indexof([0.1,1,10,100,1000], datum.value) >= 0 ? 5 : 3"}}}}}},
    "y": {"field": "y", "type": "quantitative", "title": "% Viability", "scale": {"domain": [0, 125], "nice": false, "zero": false}, "axis": {"values": [0,25,50,75,100,125]}}
   },
   "layer": [
    {"data": {"name": "crv"}, "transform": [{"filter": "datum.p=='C'"}], "mark": {"type": "line", "interpolate": "monotone", "strokeWidth": 1.6}, "encoding": {"detail": {"field": "s"}, "color": {"condition": {"test": "datum.s=='3D'", "value": "#7f7f7f"}, "value": "#000000"}}},
    {"data": {"name": "pts"}, "transform": [{"filter": "datum.p=='C' && datum.e > 0"}], "mark": {"type": "errorbar", "ticks": {"size": 6, "thickness": 1.3}, "rule": {"strokeWidth": 1.3}}, "encoding": {"yError": {"field": "e"}, "color": {"condition": [{"test": "datum.hl", "value": "#e8232d"}, {"test": "datum.s=='3D'", "value": "#7f7f7f"}], "value": "#000000"}}},
    {"data": {"name": "pts"}, "transform": [{"filter": "datum.p=='C'"}], "mark": {"type": "point", "filled": true, "size": 36, "opacity": 1}, "encoding": {"color": {"condition": [{"test": "datum.hl", "value": "#e8232d"}, {"test": "datum.s=='3D'", "value": "#7f7f7f"}], "value": "#000000"}, "shape": {"field": "s", "type": "nominal", "scale": {"domain": ["2D","3D"], "range": ["circle","triangle-up"]}, "legend": null}}},
    {"data": {"name": "legline"}, "transform": [{"filter": "datum.p=='C'"}], "mark": {"type": "rule", "strokeWidth": 1.5}, "encoding": {"x2": {"field": "x2"}, "color": {"condition": {"test": "datum.s=='3D'", "value": "#7f7f7f"}, "value": "#000000"}}},
    {"data": {"name": "legsym"}, "transform": [{"filter": "datum.p=='C'"}], "mark": {"type": "point", "filled": true, "size": 36, "opacity": 1}, "encoding": {"color": {"condition": {"test": "datum.s=='3D'", "value": "#7f7f7f"}, "value": "#000000"}, "shape": {"field": "s", "type": "nominal", "scale": {"domain": ["2D","3D"], "range": ["circle","triangle-up"]}, "legend": null}}},
    {"data": {"name": "legtxt"}, "transform": [{"filter": "datum.p=='C'"}], "mark": {"type": "text", "align": "left", "baseline": "middle", "fontSize": 11, "color": "#000"}, "encoding": {"text": {"field": "t"}}},
    {"data": {"name": "ann"}, "transform": [{"filter": "datum.p=='C'"}], "mark": {"type": "text", "align": "left", "baseline": "middle", "fontSize": 11}, "encoding": {"text": {"field": "t"}, "color": {"condition": {"test": "datum.s=='3D'", "value": "#808080"}, "value": "#000000"}}},
    {"data": {"name": "pv"}, "transform": [{"filter": "datum.p=='C'"}], "mark": {"type": "text", "align": "right", "baseline": "middle", "fontSize": 11, "color": "#000"}, "encoding": {"text": {"field": "t"}}},
    {"data": {"name": "lab"}, "transform": [{"filter": "datum.p=='C'"}], "mark": {"type": "text", "align": "center", "baseline": "middle", "fontSize": 23, "fontWeight": "bold", "color": "#000", "dx": -60.5, "dy": -25}, "encoding": {"text": {"field": "t"}}}
   ]},
  {"width": 261, "height": 175,
   "encoding": {
    "x": {"field": "x", "type": "quantitative", "title": "[IPA 3], µM", "scale": {"type": "log", "domain": [0.1, 1000], "nice": false}, "axis": {"format": "~g", "values": [0.1,0.2,0.3,0.4,0.5,0.6,0.7,0.8,0.9,1,2,3,4,5,6,7,8,9,10,20,30,40,50,60,70,80,90,100,200,300,400,500,600,700,800,900,1000], "labelExpr": "indexof([0.1,1,10,100,1000], datum.value) >= 0 ? datum.label : ''", "encode": {"ticks": {"update": {"y2": {"signal": "indexof([0.1,1,10,100,1000], datum.value) >= 0 ? 5 : 3"}}}}}},
    "y": {"field": "y", "type": "quantitative", "title": "% Viability", "scale": {"domain": [0, 125], "nice": false, "zero": false}, "axis": {"values": [0,25,50,75,100,125]}}
   },
   "layer": [
    {"data": {"name": "crv"}, "transform": [{"filter": "datum.p=='D'"}], "mark": {"type": "line", "interpolate": "monotone", "strokeWidth": 1.6}, "encoding": {"detail": {"field": "s"}, "color": {"condition": {"test": "datum.s=='3D'", "value": "#7f7f7f"}, "value": "#000000"}}},
    {"data": {"name": "pts"}, "transform": [{"filter": "datum.p=='D' && datum.e > 0"}], "mark": {"type": "errorbar", "ticks": {"size": 6, "thickness": 1.3}, "rule": {"strokeWidth": 1.3}}, "encoding": {"yError": {"field": "e"}, "color": {"condition": [{"test": "datum.hl", "value": "#e8232d"}, {"test": "datum.s=='3D'", "value": "#7f7f7f"}], "value": "#000000"}}},
    {"data": {"name": "pts"}, "transform": [{"filter": "datum.p=='D'"}], "mark": {"type": "point", "filled": true, "size": 36, "opacity": 1}, "encoding": {"color": {"condition": [{"test": "datum.hl", "value": "#e8232d"}, {"test": "datum.s=='3D'", "value": "#7f7f7f"}], "value": "#000000"}, "shape": {"field": "s", "type": "nominal", "scale": {"domain": ["2D","3D"], "range": ["circle","triangle-up"]}, "legend": null}}},
    {"data": {"name": "legline"}, "transform": [{"filter": "datum.p=='D'"}], "mark": {"type": "rule", "strokeWidth": 1.5}, "encoding": {"x2": {"field": "x2"}, "color": {"condition": {"test": "datum.s=='3D'", "value": "#7f7f7f"}, "value": "#000000"}}},
    {"data": {"name": "legsym"}, "transform": [{"filter": "datum.p=='D'"}], "mark": {"type": "point", "filled": true, "size": 36, "opacity": 1}, "encoding": {"color": {"condition": {"test": "datum.s=='3D'", "value": "#7f7f7f"}, "value": "#000000"}, "shape": {"field": "s", "type": "nominal", "scale": {"domain": ["2D","3D"], "range": ["circle","triangle-up"]}, "legend": null}}},
    {"data": {"name": "legtxt"}, "transform": [{"filter": "datum.p=='D'"}], "mark": {"type": "text", "align": "left", "baseline": "middle", "fontSize": 11, "color": "#000"}, "encoding": {"text": {"field": "t"}}},
    {"data": {"name": "ann"}, "transform": [{"filter": "datum.p=='D'"}], "mark": {"type": "text", "align": "left", "baseline": "middle", "fontSize": 11}, "encoding": {"text": {"field": "t"}, "color": {"condition": {"test": "datum.s=='3D'", "value": "#808080"}, "value": "#000000"}}},
    {"data": {"name": "pv"}, "transform": [{"filter": "datum.p=='D'"}], "mark": {"type": "text", "align": "right", "baseline": "middle", "fontSize": 11, "color": "#000"}, "encoding": {"text": {"field": "t"}}},
    {"data": {"name": "lab"}, "transform": [{"filter": "datum.p=='D'"}], "mark": {"type": "text", "align": "center", "baseline": "middle", "fontSize": 23, "fontWeight": "bold", "color": "#000", "dx": -75.5, "dy": -21.5}, "encoding": {"text": {"field": "t"}}}
   ]},
  {"width": 261, "height": 175,
   "encoding": {
    "x": {"field": "x", "type": "quantitative", "title": "[y-27632], µM", "scale": {"type": "log", "domain": [0.1, 1000], "nice": false}, "axis": {"format": "~g", "values": [0.1,0.2,0.3,0.4,0.5,0.6,0.7,0.8,0.9,1,2,3,4,5,6,7,8,9,10,20,30,40,50,60,70,80,90,100,200,300,400,500,600,700,800,900,1000], "labelExpr": "indexof([0.1,1,10,100,1000], datum.value) >= 0 ? datum.label : ''", "encode": {"ticks": {"update": {"y2": {"signal": "indexof([0.1,1,10,100,1000], datum.value) >= 0 ? 5 : 3"}}}}}},
    "y": {"field": "y", "type": "quantitative", "title": "% Viability", "scale": {"domain": [0, 125], "nice": false, "zero": false}, "axis": {"values": [0,25,50,75,100,125]}}
   },
   "layer": [
    {"data": {"name": "crv"}, "transform": [{"filter": "datum.p=='E'"}], "mark": {"type": "line", "interpolate": "monotone", "strokeWidth": 1.6}, "encoding": {"detail": {"field": "s"}, "color": {"condition": {"test": "datum.s=='3D'", "value": "#7f7f7f"}, "value": "#000000"}}},
    {"data": {"name": "pts"}, "transform": [{"filter": "datum.p=='E' && datum.e > 0"}], "mark": {"type": "errorbar", "ticks": {"size": 6, "thickness": 1.3}, "rule": {"strokeWidth": 1.3}}, "encoding": {"yError": {"field": "e"}, "color": {"condition": [{"test": "datum.hl", "value": "#e8232d"}, {"test": "datum.s=='3D'", "value": "#7f7f7f"}], "value": "#000000"}}},
    {"data": {"name": "pts"}, "transform": [{"filter": "datum.p=='E'"}], "mark": {"type": "point", "filled": true, "size": 36, "opacity": 1}, "encoding": {"color": {"condition": [{"test": "datum.hl", "value": "#e8232d"}, {"test": "datum.s=='3D'", "value": "#7f7f7f"}], "value": "#000000"}, "shape": {"field": "s", "type": "nominal", "scale": {"domain": ["2D","3D"], "range": ["circle","triangle-up"]}, "legend": null}}},
    {"data": {"name": "legline"}, "transform": [{"filter": "datum.p=='E'"}], "mark": {"type": "rule", "strokeWidth": 1.5}, "encoding": {"x2": {"field": "x2"}, "color": {"condition": {"test": "datum.s=='3D'", "value": "#7f7f7f"}, "value": "#000000"}}},
    {"data": {"name": "legsym"}, "transform": [{"filter": "datum.p=='E'"}], "mark": {"type": "point", "filled": true, "size": 36, "opacity": 1}, "encoding": {"color": {"condition": {"test": "datum.s=='3D'", "value": "#7f7f7f"}, "value": "#000000"}, "shape": {"field": "s", "type": "nominal", "scale": {"domain": ["2D","3D"], "range": ["circle","triangle-up"]}, "legend": null}}},
    {"data": {"name": "legtxt"}, "transform": [{"filter": "datum.p=='E'"}], "mark": {"type": "text", "align": "left", "baseline": "middle", "fontSize": 11, "color": "#000"}, "encoding": {"text": {"field": "t"}}},
    {"data": {"name": "ann"}, "transform": [{"filter": "datum.p=='E'"}], "mark": {"type": "text", "align": "left", "baseline": "middle", "fontSize": 11}, "encoding": {"text": {"field": "t"}, "color": {"condition": {"test": "datum.s=='3D'", "value": "#808080"}, "value": "#000000"}}},
    {"data": {"name": "lab"}, "transform": [{"filter": "datum.p=='E'"}], "mark": {"type": "text", "align": "center", "baseline": "middle", "fontSize": 23, "fontWeight": "bold", "color": "#000", "dx": -61.5, "dy": -28}, "encoding": {"text": {"field": "t"}}}
   ]},
  {"width": 261, "height": 175,
   "encoding": {
    "x": {"field": "x", "type": "quantitative", "title": "[y-27632], µM", "scale": {"type": "log", "domain": [0.1, 1000], "nice": false}, "axis": {"format": "~g", "values": [0.1,0.2,0.3,0.4,0.5,0.6,0.7,0.8,0.9,1,2,3,4,5,6,7,8,9,10,20,30,40,50,60,70,80,90,100,200,300,400,500,600,700,800,900,1000], "labelExpr": "indexof([0.1,1,10,100,1000], datum.value) >= 0 ? datum.label : ''", "encode": {"ticks": {"update": {"y2": {"signal": "indexof([0.1,1,10,100,1000], datum.value) >= 0 ? 5 : 3"}}}}}},
    "y": {"field": "y", "type": "quantitative", "title": "% Viability", "scale": {"domain": [0, 140], "nice": false, "zero": false}, "axis": {"values": [0,25,50,75,100,125]}}
   },
   "layer": [
    {"data": {"name": "crv"}, "transform": [{"filter": "datum.p=='F'"}], "mark": {"type": "line", "interpolate": "monotone", "strokeWidth": 1.6}, "encoding": {"detail": {"field": "s"}, "color": {"condition": {"test": "datum.s=='3D'", "value": "#7f7f7f"}, "value": "#000000"}}},
    {"data": {"name": "pts"}, "transform": [{"filter": "datum.p=='F' && datum.e > 0"}], "mark": {"type": "errorbar", "ticks": {"size": 6, "thickness": 1.3}, "rule": {"strokeWidth": 1.3}}, "encoding": {"yError": {"field": "e"}, "color": {"condition": [{"test": "datum.hl", "value": "#e8232d"}, {"test": "datum.s=='3D'", "value": "#7f7f7f"}], "value": "#000000"}}},
    {"data": {"name": "pts"}, "transform": [{"filter": "datum.p=='F'"}], "mark": {"type": "point", "filled": true, "size": 36, "opacity": 1}, "encoding": {"color": {"condition": [{"test": "datum.hl", "value": "#e8232d"}, {"test": "datum.s=='3D'", "value": "#7f7f7f"}], "value": "#000000"}, "shape": {"field": "s", "type": "nominal", "scale": {"domain": ["2D","3D"], "range": ["circle","triangle-up"]}, "legend": null}}},
    {"data": {"name": "legline"}, "transform": [{"filter": "datum.p=='F'"}], "mark": {"type": "rule", "strokeWidth": 1.5}, "encoding": {"x2": {"field": "x2"}, "color": {"condition": {"test": "datum.s=='3D'", "value": "#7f7f7f"}, "value": "#000000"}}},
    {"data": {"name": "legsym"}, "transform": [{"filter": "datum.p=='F'"}], "mark": {"type": "point", "filled": true, "size": 36, "opacity": 1}, "encoding": {"color": {"condition": {"test": "datum.s=='3D'", "value": "#7f7f7f"}, "value": "#000000"}, "shape": {"field": "s", "type": "nominal", "scale": {"domain": ["2D","3D"], "range": ["circle","triangle-up"]}, "legend": null}}},
    {"data": {"name": "legtxt"}, "transform": [{"filter": "datum.p=='F'"}], "mark": {"type": "text", "align": "left", "baseline": "middle", "fontSize": 11, "color": "#000"}, "encoding": {"text": {"field": "t"}}},
    {"data": {"name": "lab"}, "transform": [{"filter": "datum.p=='F'"}], "mark": {"type": "text", "align": "center", "baseline": "middle", "fontSize": 23, "fontWeight": "bold", "color": "#000", "dx": -76.5, "dy": -20.5}, "encoding": {"text": {"field": "t"}}}
   ]}
]
}
